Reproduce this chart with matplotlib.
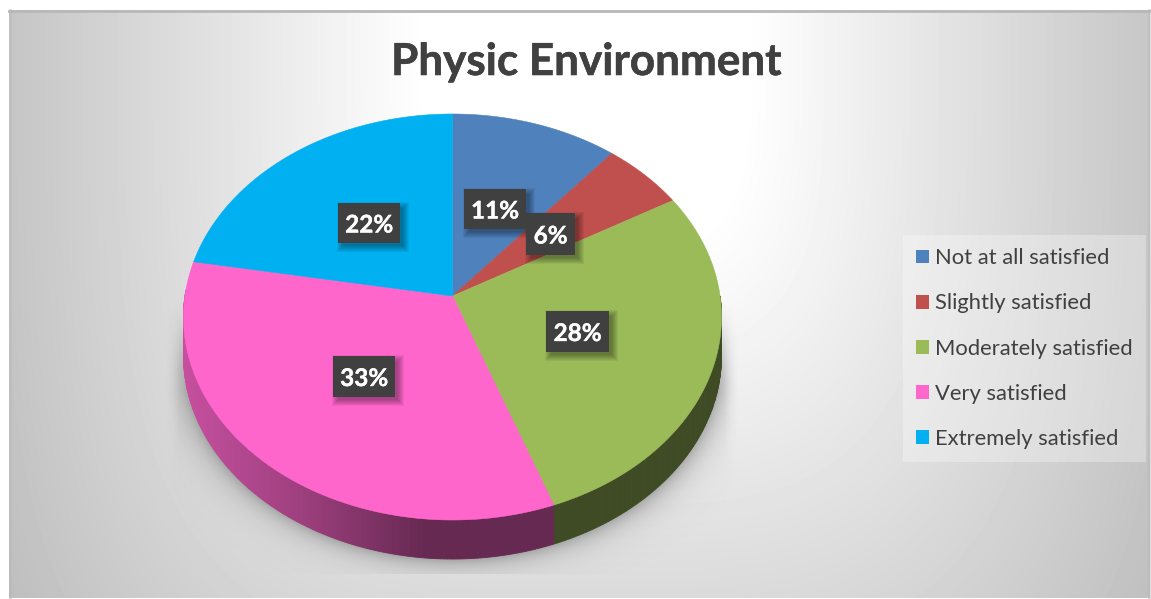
import numpy as np
import matplotlib
matplotlib.use('Agg')
import matplotlib.pyplot as plt
import matplotlib.patheffects as pe
from matplotlib.patches import Polygon, Rectangle, Patch

plt.rcParams['font.family'] = ['Lato', 'DejaVu Sans']

# data (counts give the rounded percentages in the labels)
categories = ['Not at all satisfied', 'Slightly satisfied', 'Moderately satisfied',
              'Very satisfied', 'Extremely satisfied']
counts = [2, 1, 5, 6, 4]
colors = ['#4f81bd', '#c0504d', '#9bbb59', '#ff66cc', '#00b0f0']
title = 'Physic Environment'

W, H = 1151, 599
fig = plt.figure(figsize=(W / 100, H / 100), dpi=100)
ax = fig.add_axes([0, 0, 1, 1])
ax.axis('off')

# background gradient
yy, xx = np.mgrid[10:598, 9:1150]
a = np.abs(xx - 585.0) / 570.0
b = np.abs(yy - 40.0) / 750.0
d = (a ** 3.5 + b ** 3.5) ** (1 / 3.5)
shade = np.clip(255 - 57 * (d - 0.28) / 0.72, 0, 255) / 255
ax.imshow(shade, cmap='gray', vmin=0, vmax=1, extent=(9, 1150, 598, 10),
          aspect='auto', zorder=0)
ax.plot([9, 1150], [10.5, 10.5], color='#b8b8b8', lw=2, zorder=1)
ax.plot([10, 10], [10, 598], color='#b8b8b8', lw=2, alpha=0.5, zorder=1)
ax.plot([1149, 1149], [10, 598], color='#b8b8b8', lw=2, alpha=0.5, zorder=1)

# perspective of the pie top
cx, cy = 452.5, 317.0
rx, ry = 269.0, 203.0
apex = 21.0
depth = 39.0
k = apex / ry


def project(t, r=1.0):
    u = r * np.sin(t)
    v = r * np.cos(t)
    w = 1 + k * v
    px = cx + rx * np.sqrt(1 - k ** 2) * u / w
    py = cy - (ry * v + apex) / w
    return px, py


# drop shadow under the pie
sy, sx = np.mgrid[300:574, 165:739]
e = np.sqrt(((sx - cx) / rx) ** 2 + ((sy - (cy + depth)) / ry) ** 2)
dist = (e - 1) * 230
alpha = 0.42 * np.exp(-np.clip(dist, 0, None) / 12.0)
alpha *= np.clip((sy - 300) / 90.0, 0, 1)
alpha *= np.clip((sx - 165) / 14.0, 0, 1) * np.clip((738 - sx) / 14.0, 0, 1)
rgba = np.zeros(alpha.shape + (4,))
rgba[..., :3] = 0.35
rgba[..., 3] = alpha
ax.imshow(rgba, extent=(165, 739, 574, 300), aspect='auto', zorder=1)
ax.set_xlim(0, W)
ax.set_ylim(H, 0)

fractions = np.array(counts) / sum(counts)
edges = np.concatenate([[0], np.cumsum(fractions)]) * 2 * np.pi

# side wall, only the part that faces the viewer
for i, color in enumerate(colors):
    t0, t1 = max(edges[i], np.pi / 2), min(edges[i + 1], 3 * np.pi / 2 + 0.03)
    if t1 <= t0:
        continue
    ts = np.linspace(t0, t1, int((t1 - t0) * 90) + 2)
    base = np.array(matplotlib.colors.to_rgb(color))
    for p, q in zip(ts[:-1], ts[1:]):
        xa, ya = project(p)
        xb, yb = project(q)
        f = np.interp((xa + xb) / 2, [183, 300, 425, 440], [0.78, 0.62, 0.40, 0.40])
        c = base * f
        ax.add_patch(Polygon([(xa, ya), (xb, yb), (xb, yb + depth), (xa, ya + depth)],
                             facecolor=c, edgecolor=c, lw=0.6, zorder=2))

# top face
for i, color in enumerate(colors):
    ts = np.linspace(edges[i], edges[i + 1], 120)
    px, py = project(ts)
    ox, oy = project(0.0, 0.0)
    pts = np.column_stack([np.r_[ox, px], np.r_[oy, py]])
    ax.add_patch(Polygon(pts, closed=True, facecolor=color, edgecolor=color, lw=0.4, zorder=3))

# percent labels, box extents in pixels
boxes = [(464, 526, 189, 229), (526, 575, 213, 255), (546, 609, 311, 352),
         (333, 395, 356, 397), (338, 400, 203, 243)]
for frac, (x0, x1, y0, y1) in zip(fractions, boxes):
    for s in range(1, 8):
        ax.add_patch(Rectangle((x0 + 6 - s, y0 + 6 - s), x1 - x0 + 2 * s - 4, y1 - y0 + 2 * s - 4,
                               facecolor='black', edgecolor='none', alpha=0.055, zorder=4))
    ax.add_patch(Rectangle((x0, y0), x1 - x0, y1 - y0, facecolor='#404040',
                           edgecolor='none', zorder=5))
    ax.text((x0 + x1) / 2, (y0 + y1) / 2, f'{frac * 100:.0f}%', color='white', fontsize=17.5,
            fontweight='bold', ha='center', va='center_baseline', zorder=6,
            path_effects=[pe.withStroke(linewidth=0.25, foreground='white')])

ax.text(586, 62, title, fontsize=31.7, fontweight='bold', color='#404040',
        ha='center', va='center',
        path_effects=[pe.withStroke(linewidth=0.4, foreground='#404040')])

# legend
handles = [Patch(facecolor=c, edgecolor='none') for c in colors]
leg = ax.legend(handles, categories, loc='upper left', bbox_to_anchor=(903, 235),
                bbox_transform=ax.transData, borderaxespad=0, fontsize=15.8,
                handlelength=0.59, handleheight=0.59, handletextpad=0.27,
                labelspacing=1.15, borderpad=0.6, fancybox=False,
                framealpha=0.3, facecolor='white', edgecolor='none',
                labelcolor='#404040')
leg.set_zorder(7)

fig.savefig('out.png', dpi=100)
